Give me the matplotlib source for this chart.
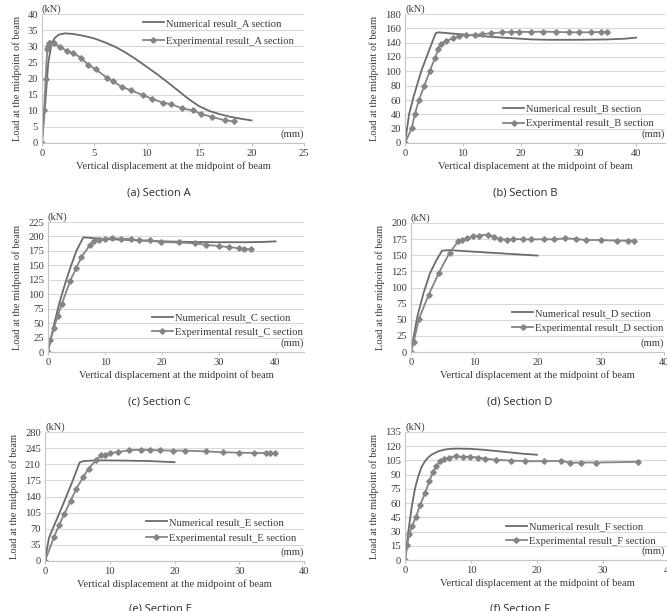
import numpy as np
import matplotlib
matplotlib.use("Agg")
import matplotlib.pyplot as plt
from matplotlib.ticker import MultipleLocator

# ---- data (displacement mm, load kN) ----
secA_num_x = [0, 0.3, 0.6, 0.9, 1.2, 1.6, 2.2, 3, 4, 5, 6, 7, 8, 9, 10, 11, 12, 13, 14, 15, 16, 17, 18, 19, 20]
secA_num_y = [0, 12, 25, 30.5, 32.5, 33.6, 34.0, 33.8, 33.2, 32.4, 31.2, 29.8, 28.0, 25.9, 23.6, 21.3, 18.8, 16.2, 13.6, 11.4, 9.9, 8.9, 8.1, 7.5, 7.0]
secA_exp_x = [0, 0.2, 0.35, 0.5, 0.6, 0.7, 0.8, 1.1, 1.7, 2.35, 3.0, 3.7, 4.4, 5.15, 6.2, 6.8, 7.6, 8.45, 9.6, 10.5, 11.55, 12.35, 13.4, 14.4, 15.2, 16.2, 17.5, 18.3]
secA_exp_y = [0, 10.2, 20, 29, 30, 31, 31, 31, 29.8, 28.6, 27.8, 26.5, 24.3, 22.8, 20.2, 19.1, 17.4, 16.4, 14.9, 13.7, 12.5, 12.0, 10.7, 10.1, 9.0, 8.1, 7.0, 6.7]

secB_num_x = [0, 0.7, 1.5, 2.8, 4.2, 5.3, 5.8, 7, 10, 15, 20, 22, 25, 30, 35, 38, 40]
secB_num_y = [0, 40, 65, 100, 130, 153, 154.5, 153.5, 151.5, 148, 145.5, 144.5, 144, 144, 144.5, 145.5, 147]
secB_exp_x = [0, 1.15, 1.7, 2.4, 3.35, 4.27, 5.2, 5.77, 6.2, 7.15, 8.3, 9.35, 10.5, 12.1, 13.3, 14.9, 16.85, 18.35, 19.8, 21.8, 23.95, 26.1, 28.3, 30.1, 32.2, 34.0, 34.9]
secB_exp_y = [0, 20.4, 39.9, 59.8, 79.8, 100, 119, 131, 138, 142.4, 146, 149, 150.7, 150.7, 152, 153, 154.5, 155, 155, 155, 155.4, 155, 154.5, 154.5, 154.5, 155, 155]

secC_num_x = [0, 1, 2, 3, 4, 5, 6.2, 8, 10, 15, 20, 25, 30, 35, 38, 40]
secC_num_y = [0, 45, 85, 118, 148, 175, 198.5, 197, 195.5, 193.5, 191.5, 190.5, 190, 190, 190.5, 191.5]
secC_exp_x = [0, 0.4, 1.05, 1.7, 2.45, 3.9, 4.96, 5.84, 7.4, 8.0, 8.9, 10.1, 11.3, 12.8, 14.65, 16.05, 17.9, 19.85, 22.95, 25.9, 27.7, 30.1, 31.8, 33.5, 34.45, 35.7]
secC_exp_y = [0, 20.3, 41.8, 62.6, 83.5, 123.5, 145, 164, 185.6, 191.4, 194.3, 196, 196.6, 196, 195.4, 193, 193, 190.2, 189.6, 187.9, 185.6, 183.3, 181.5, 179.8, 178.6, 177.5]

secD_num_x = [0, 1, 2, 3, 4, 4.9, 6, 10, 15, 20]
secD_num_y = [0, 55, 92, 122, 142, 157, 158, 155.5, 152.5, 149.5]
secD_exp_x = [0, 0.42, 1.26, 2.8, 4.42, 6.1, 7.47, 8.1, 8.84, 9.84, 10.74, 12.1, 13.05, 14.0, 15.16, 16.2, 17.7, 19.05, 20.95, 22.6, 24.4, 26.1, 27.6, 30.1, 32.5, 34.3, 35.3]
secD_exp_y = [0, 15.5, 51.7, 88.9, 123, 154, 171.6, 173, 176.2, 179.3, 180.4, 182, 178.8, 175.2, 174.2, 175.2, 174.7, 174.7, 174.7, 174.7, 176.2, 175.2, 173.6, 173.6, 172.6, 172.6, 172.6]

secE_num_x = [0, 0.6, 1.5, 3, 4.3, 5.35, 6, 8, 12, 16, 20]
secE_num_y = [0, 50, 80, 130, 175, 214, 217, 218.5, 218, 217, 214.5]
secE_exp_x = [0, 1.39, 2.16, 2.98, 3.96, 4.83, 5.86, 6.74, 7.87, 8.64, 9.3, 10.1, 11.3, 12.9, 14.8, 16.25, 17.7, 19.75, 21.6, 24.9, 27.45, 29.9, 32.3, 34.1, 34.75, 35.5]
secE_exp_y = [0, 52, 77.4, 102, 131, 156.3, 181.6, 200.4, 218.5, 229.4, 230, 234.4, 236.6, 240.2, 241.7, 241, 240.2, 239.5, 239.5, 238, 236, 235.2, 234.4, 234.4, 233.7, 233.7]

secF_num_x = [0, 0.5, 1.0, 1.5, 2, 2.5, 3, 3.5, 4, 5, 6, 7, 8, 10, 12, 14, 16, 18, 20]
secF_num_y = [0, 30, 55, 75, 88, 98, 104, 108, 111, 114.5, 116.5, 117.3, 117.5, 117.2, 116.2, 114.8, 113.4, 112, 111]
secF_exp_x = [0, 0.35, 0.6, 1.1, 1.67, 2.32, 3.03, 3.69, 4.24, 4.75, 5.35, 5.96, 6.67, 7.68, 8.79, 9.8, 11.0, 12.1, 13.8, 16.06, 18.2, 21.1, 23.7, 25.05, 26.7, 29.0, 35.25]
secF_exp_y = [0, 15.4, 26.9, 36, 45.8, 58.4, 70.3, 83.2, 93, 99.3, 103.9, 107, 107.7, 109.8, 108.4, 109.1, 108, 107, 105.6, 104.9, 104.2, 104.2, 104.6, 102.5, 102.8, 102.8, 103.5]

sections = ["A", "B", "C", "D", "E", "F"]
captions = ["(a) Section A", "(b) Section B", "(c) Section C",
            "(d) Section D", "(e) Section E", "(f) Section F"]
num_x = [secA_num_x, secB_num_x, secC_num_x, secD_num_x, secE_num_x, secF_num_x]
num_y = [secA_num_y, secB_num_y, secC_num_y, secD_num_y, secE_num_y, secF_num_y]
exp_x = [secA_exp_x, secB_exp_x, secC_exp_x, secD_exp_x, secE_exp_x, secF_exp_x]
exp_y = [secA_exp_y, secB_exp_y, secC_exp_y, secD_exp_y, secE_exp_y, secF_exp_y]
x_max = [25, 45, 45, 40, 40, 40]
x_step = [5, 10, 10, 10, 10, 10]
y_max = [40, 180, 225, 200, 280, 135]
y_step = [5, 20, 25, 25, 35, 15]

# ---- layout in pixels (left, right, top, bottom) ----
W, H = 667, 611
boxes = [(42, 304, 14, 143), (405, 665, 14, 143),
         (48, 304, 222, 352), (411, 664, 223, 352),
         (45, 304, 432, 561), (405, 669, 432, 560)]
leg_pos = [(0.385, 0.965), (0.377, 0.30), (0.406, 0.30),
           (0.40, 0.337), (0.389, 0.335), (0.381, 0.297)]
leg_space = [0.8, 0.5, 0.5, 0.52, 0.58, 0.45]
cap_pos = [(159, 193), (525, 193), (159, 402), (520, 402), (160, 609), (520, 609)]

plt.rcParams['font.family'] = ['Liberation Serif', 'DejaVu Serif']
fs = 7.6
txt_col = "#3a3a3a"
num_col = "#6b6b6b"
exp_col = "#858585"

fig = plt.figure(figsize=(W / 100, H / 100), dpi=100)

for i in range(6):
  l, r, t, b = boxes[i]
  ax = fig.add_axes([l / W, 1 - b / H, (r - l) / W, (b - t) / H])

  ax.plot(num_x[i], num_y[i], color=num_col, lw=1.3,
          label="Numerical result_%s section" % sections[i])
  ax.plot(exp_x[i], exp_y[i], color=exp_col, lw=1.3, marker="D", ms=2.8,
          label="Experimental result_%s section" % sections[i])

  ax.set_xlim(0, x_max[i])
  ax.set_ylim(0, y_max[i])
  ax.xaxis.set_major_locator(MultipleLocator(x_step[i]))
  ax.yaxis.set_major_locator(MultipleLocator(y_step[i]))
  if x_max[i] == 45:
    ax.set_xticks(np.arange(0, 41, 10))
  ax.grid(axis="y", color="#d9d9d9", lw=0.8)
  ax.set_axisbelow(True)
  for s in ["top", "right"]:
    ax.spines[s].set_visible(False)
  for s in ["left", "bottom"]:
    ax.spines[s].set_color("#c4c4c4")
    ax.spines[s].set_linewidth(0.8)
  ax.tick_params(axis="y", length=0, pad=3, labelsize=fs, labelcolor=txt_col)
  ax.tick_params(axis="x", length=2, color="#c4c4c4", pad=2, labelsize=fs, labelcolor=txt_col)

  ax.set_xlabel("Vertical displacement at the midpoint of beam", fontsize=fs, color=txt_col, labelpad=3)
  ax.set_ylabel("Load at the midpoint of beam", fontsize=fs, color=txt_col, labelpad=4)
  ax.text(0, 1.0, "(kN)", transform=ax.transAxes, fontsize=fs, color=txt_col,
          ha="left", va="bottom")
  ax.text(min(1.0, (W - 2 - l) / (r - l)), 0.03, "(mm)", transform=ax.transAxes,
          fontsize=fs, color=txt_col, ha="right", va="bottom")

  ax.legend(loc="upper left", bbox_to_anchor=leg_pos[i], frameon=False,
            fontsize=fs, borderpad=0, borderaxespad=0, handlelength=2.0,
            handletextpad=0.2, labelspacing=leg_space[i], labelcolor=txt_col)

  cx, cy = cap_pos[i]
  fig.text(cx / W, 1 - cy / H, captions[i], family="Open Sans", fontsize=8,
           color="#2a2a2a", ha="center", va="center")

fig.savefig("out.png", dpi=100)
